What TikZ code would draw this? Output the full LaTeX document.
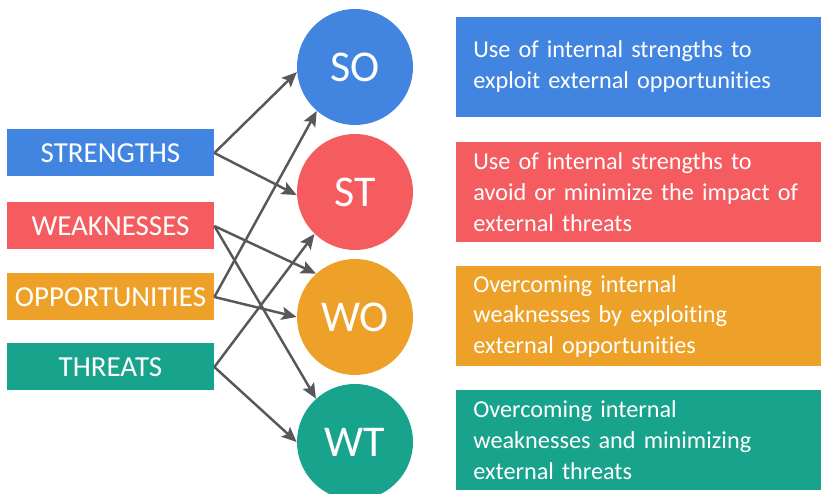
\documentclass[tikz,border=0pt]{standalone}
\usepackage{xcolor}
\usepackage{fontspec}
\setmainfont{Carlito}[Ligatures={NoCommon}]
\usepackage{tikz}
\usetikzlibrary{shapes,arrows.meta}
\definecolor{sblue}{RGB}{66,133,224}
\definecolor{sred}{RGB}{244,92,96}
\definecolor{sorange}{RGB}{238,161,40}
\definecolor{steal}{RGB}{24,163,140}
\definecolor{arr}{RGB}{88,88,92}
\tikzstyle{factor}=[rectangle,minimum width=4.14cm,minimum height=0.94cm,text=white,font=\fontsize{16.5}{18}\selectfont]
\tikzstyle{strategy}=[circle,minimum size=2.32cm,inner sep=0pt,text=white,font=\fontsize{25}{27}\selectfont]
\tikzstyle{meaning}=[rectangle,anchor=west,minimum height=2cm,inner xsep=0.34cm,text width=6.9cm,align=left,text=white,font=\fontsize{13.8}{17.6}\selectfont]
\tikzstyle{link}=[arr,line width=1.4pt,-{Stealth[length=0.3cm,width=0.26cm,inset=0.06cm]}]

\begin{document}
\begin{tikzpicture}
\useasboundingbox (0,0) rectangle (16.42,9.88);
% left column
\node[factor, fill=sblue] (s) at (2.21,6.82) {STRENGTHS};
\node[factor, fill=sred] (w) at (2.21,5.36) {WEAKNESSES};
\node[factor, fill=sorange] (o) at (2.21,3.94) {OPPORTUNITIES};
\node[factor, fill=steal] (t) at (2.21,2.54) {THREATS};
% strategies
\node[strategy, fill=sblue] (so) at (7.1,8.54) {SO};
\node[strategy, fill=sred] (st) at (7.1,6.04) {ST};
\node[strategy, fill=sorange] (wo) at (7.1,3.54) {WO};
\node[strategy, fill=steal] (wt) at (7.1,1.04) {WT};
% right column
\node[meaning, fill=sblue] (so-text) at (9.12,8.54) {Use of internal strengths to\\exploit external opportunities};
\node[meaning, fill=sred] (st-text) at (9.12,6.04) {Use of internal strengths to\\avoid or minimize the impact of\\external threats};
\node[meaning, fill=sorange] (wo-text) at (9.12,3.55) {Overcoming internal\\weaknesses by exploiting\\external opportunities};
\node[meaning, fill=steal] (wt-text) at (9.12,1.07) {Overcoming internal\\weaknesses and minimizing\\external threats};
\draw[link] (s.east) -- (so.185);
\draw[link] (s.east) -- (st.183);
\draw[link] (w.east) -- (wo.132);
\draw[link] (w.east) -- (wt.132);
\draw[link] (o.east) -- (so.229);
\draw[link] (o.east) -- (wo.180);
\draw[link] (t.east) -- (st.226);
\draw[link] (t.east) -- (wt.180);
\end{tikzpicture}
\end{document}
